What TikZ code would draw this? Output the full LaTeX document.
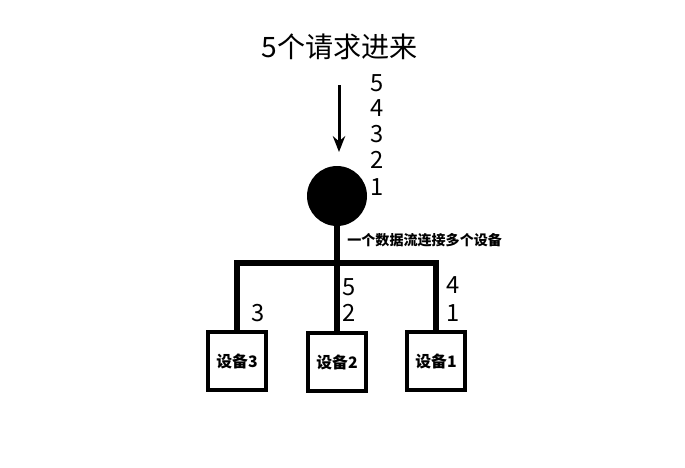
\documentclass[tikz,border=0pt]{standalone}
\usepackage{fontspec}
\setmainfont{Noto Sans CJK SC}
\usepackage{tikz}
\usetikzlibrary{arrows.meta}

\begin{document}
\begin{tikzpicture}[x=0.02cm,y=-0.02cm,
    every node/.style={font=\fontsize{13.5pt}{15pt}\selectfont, inner sep=0pt},
    wire/.style={line width=3.4pt},
    devbox/.style={draw, line width=2.3pt, minimum width=1.16cm, minimum height=1.16cm,
      font=\fontsize{9pt}{11pt}\selectfont\bfseries},
    num/.style={anchor=center}]
    \useasboundingbox (0,0) rectangle (685,467);
    % title and incoming requests
        \node (title) at (340,47) {\fontsize{16pt}{18pt}\selectfont 5个请求进来};
        \coordinate (in) at (339,85);
        \coordinate (inend) at (339,152);
        \draw[line width=1.7pt, -{Stealth[length=9pt,width=7pt]}] (in) -- (inend);
        \node[num] (q5) at (377,83) {5};
        \node[num] (q4) at (377,108) {4};
        \node[num] (q3) at (377,134) {3};
        \node[num] (q2) at (377,160) {2};
        \node[num] (q1) at (377,187) {1};
    % hub
        \node[circle, fill=black, minimum size=1.2cm] (hub) at (337,196) {};
        \node[anchor=west, font=\fontsize{8pt}{10pt}\selectfont\bfseries] (note) at (347,240) {一个数据流连接多个设备};
    % devices
        \node[devbox] (dev3) at (237,361) {设备3};
        \node[devbox] (dev2) at (337,362) {设备2};
        \node[devbox] (dev1) at (436,361) {设备1};
        \coordinate (busl) at (dev3.north |- 0,263);
        \coordinate (busm) at (hub.south |- 0,263);
        \coordinate (busr) at (dev1.north |- 0,263);
        \draw[wire] (hub.south) -- (busm);
        \draw[wire, line cap=rect] (busl) -- (busr);
        \draw[wire] (busl) -- (dev3.north);
        \draw[wire] (busm) -- (dev2.north);
        \draw[wire] (busr) -- (dev1.north);
    % what each device gets
        \node[num] (d3a) at (258,313) {3};
        \node[num] (d2a) at (349,287) {5};
        \node[num] (d2b) at (349,313) {2};
        \node[num] (d1a) at (453,285) {4};
        \node[num] (d1b) at (453,313) {1};
    \end{tikzpicture}
\end{document}
